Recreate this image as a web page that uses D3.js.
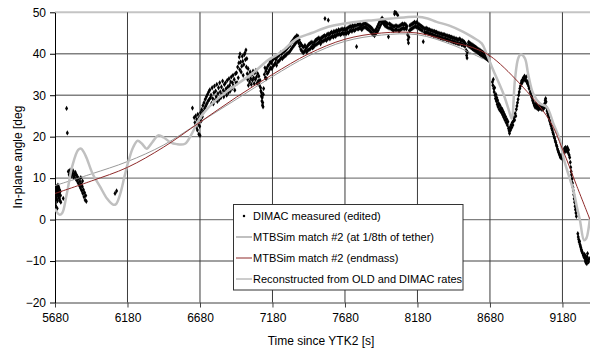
<!DOCTYPE html>
<html><head><meta charset="utf-8">
<script src="https://cdn.jsdelivr.net/npm/d3@7"></script>
<style>body{margin:0;background:#fff}svg{display:block}text{font-family:"Liberation Sans",Arial,sans-serif;fill:#000}</style>
</head><body><svg id="c" width="590" height="351"></svg>
<script>
const xTicks=[5680,6180,6680,7180,7680,8180,8680,9180];
const yTicks=[-20,-10,0,10,20,30,40,50];
const xTitle="Time since YTK2 [s]";
const yTitle="In-plane angle [deg";
const legendLabels=["DIMAC measured (edited)","MTBSim match #2 (at 1/8th of tether)","MTBSim match #2 (endmass)","Reconstructed from OLD and DIMAC rates"];

const measured=[
[5683,4.0],[5684,3.4],[5685,5.5],[5686,3.0],[5688,6.5],[5690,7.2],[5691,5.0],[5693,8.0],[5694,6.0],[5695,2.7],[5696,7.5],[5697,4.5],[5699,6.8],[5700,8.3],[5702,7.0],[5703,5.5],[5705,6.2],[5706,7.8],[5708,6.5],[5710,5.0],[5711,7.2],[5713,6.0],[5714,4.6],[5716,6.8],[5718,5.8],[5720,4.2],[5737,5.1],
[5760,26.8],[5765,20.9],
[5772,11.6],[5778,10.8],[5784,11.9],[5788,11.2],[5792,10.5],[5796,11.5],[5800,10.9],[5804,11.8],[5808,10.2],[5812,11.1],[5816,10.6],[5820,11.4],[5824,9.8],[5828,10.8],[5832,9.4],[5836,10.3],[5840,8.8],[5844,9.9],[5848,8.2],[5852,9.2],[5856,7.6],[5858,10.1],[5860,8.6],[5864,7.0],[5868,8.0],[5870,9.3],[5872,6.3],[5876,7.2],[5880,5.5],[5884,6.5],[5888,4.7],[5892,5.8],[5896,4.4],
[6094,6.3],[6105,6.9],
[6628,26.9],[6640,24.6],[6645,23.4],[6650,25.0],[6655,22.3],[6658,24.2],[6662,21.6],[6665,25.4],[6668,23.0],[6672,20.6],[6675,24.6],[6678,22.5],[6680,20.3],[6684,25.8],[6688,23.8],[6692,26.5],[6696,24.8],[6700,27.5],[6704,26.0],[6708,28.2],[6712,26.8],[6716,29.0],[6720,27.4],[6724,29.6],[6728,28.0],[6732,30.2],[6736,28.6],[6740,30.8],[6744,29.0],[6748,31.3],[6752,29.4],
[6756,30.0],[6760,28.0],[6764,31.8],[6768,29.2],[6772,27.9],[6776,30.6],[6780,32.2],[6784,28.8],[6788,31.0],[6792,29.6],[6796,32.6],[6800,28.5],[6804,30.4],[6808,31.8],[6812,29.0],[6816,33.0],[6820,30.8],[6824,29.4],[6828,32.0],[6832,30.2],[6836,33.4],[6840,31.2],[6844,29.6],[6848,32.6],[6852,30.8],[6856,33.0],[6860,31.6],[6864,30.0],[6868,33.6],[6872,32.0],[6876,30.6],[6880,34.0],[6884,32.4],[6888,31.0],[6892,33.2],[6896,34.4],[6900,31.6],[6904,33.0],[6908,34.8],[6912,32.2],[6916,33.8],[6920,31.2],[6924,35.2],[6928,33.0],
[6932,35.4],[6936,33.0],[6940,36.8],[6944,34.2],[6948,37.8],[6951,39.2],[6954,36.2],[6956,40.0],[6960,38.0],[6964,35.6],[6968,37.0],[6972,39.4],[6975,38.2],[6978,34.8],[6982,37.4],[6986,39.8],[6990,40.2],[6993,38.6],[6997,40.9],[7000,36.8],[7003,38.8],[7006,35.2],[7009,33.8],[7012,36.4],[7014,32.4],
[7018,34.8],[7022,33.2],[7026,35.6],[7030,34.0],[7034,32.6],[7038,35.0],[7042,33.6],[7046,35.8],[7050,34.2],[7054,32.8],[7058,35.4],[7062,33.8],[7066,36.0],[7070,34.4],[7074,32.9],[7078,35.2],[7082,33.4],[7086,34.6],[7090,32.4],[7094,33.6],[7098,31.8],
[7100,31.0],[7103,29.8],[7105,30.6],[7107,28.6],[7109,29.4],[7111,27.6],[7113,28.2],[7115,27.2],[7117,30.2],[7119,31.6],
[7124,35.0],[7128,36.6],[7131,34.2],[7134,35.8],[7137,34.0],[7140,36.4],[7144,35.2],[7148,37.0],[7152,35.6],[7156,37.4],[7160,36.2],[7164,38.0],[7168,36.6],[7172,37.8],[7176,36.4],[7180,38.4],[7184,37.0],[7188,38.8],[7192,37.4],[7196,39.0],[7200,37.8],[7204,38.6],[7208,37.2],[7212,39.2],[7216,38.0],[7220,39.6],[7224,38.2],[7228,39.8],[7232,38.6],[7236,40.2],[7240,39.0],[7244,40.0],[7248,38.8],[7252,40.4],[7256,39.2],[7260,40.6],[7264,39.4],[7268,40.8],[7272,39.6],[7276,41.2],[7280,40.0],[7284,41.4],[7288,40.2],[7292,41.8],[7296,40.4],[7300,42.0],
[7304,40.8],[7308,42.6],[7312,41.2],[7316,43.0],[7320,41.6],[7324,43.4],[7328,42.0],[7332,43.8],[7336,42.4],[7340,44.0],[7344,42.8],[7348,44.4],[7352,43.2],[7356,44.2],[7360,42.6],[7364,43.4],[7368,41.8],[7372,42.6],[7376,41.0],[7380,42.2],[7384,40.6],[7388,41.8],[7392,40.2],[7396,41.6],[7400,40.6],[7404,42.0],[7408,40.8],[7412,41.4],[7416,40.4],[7420,41.8],[7424,40.8],[7428,42.2],[7432,41.0],[7436,42.4],[7440,41.2],[7444,42.6],[7448,41.6],[7452,42.8],[7456,41.4],[7460,42.2],[7464,41.6],[7468,42.8],[7472,42.0],[7476,43.2],[7480,42.2],[7484,43.4],[7488,42.4],[7492,43.6],[7496,42.6],[7500,43.8],[7504,42.8],[7508,43.4],[7512,42.4],[7516,43.8],[7520,43.0],[7524,44.0],[7528,43.0],[7532,44.2],[7536,43.2],[7540,44.4],[7542,48.5],[7544,43.4],[7548,44.2],[7552,43.2],[7556,44.6],[7560,43.6],[7564,44.8],[7565,48.1],[7568,43.8],[7572,44.6],[7576,43.6],[7580,45.0],[7584,44.0],[7588,45.2],[7592,44.2],[7596,45.0],[7600,44.0],[7604,45.4],[7608,44.4],[7612,45.2],[7616,44.2],[7620,45.6],[7624,44.6],[7628,45.4],[7632,44.6],[7636,45.8],[7640,44.8],[7644,45.6],[7648,44.6],[7652,45.8],[7656,44.8],[7660,46.0],[7664,45.0],[7668,45.8],[7672,44.8],[7676,46.0],[7680,45.0],
[7684,45.8],[7688,44.8],[7692,46.0],[7696,45.2],[7700,46.2],[7704,45.0],[7708,46.4],[7712,45.4],[7716,46.6],[7720,45.6],[7724,46.4],[7728,45.4],[7732,46.8],[7736,45.8],[7740,46.6],[7744,45.6],[7748,46.8],[7752,45.8],[7756,46.8],[7760,41.7],[7764,46.0],[7768,47.0],[7772,46.0],[7776,47.0],[7780,46.2],[7784,47.2],[7788,46.2],[7792,46.8],[7796,45.8],[7800,47.0],[7804,46.2],[7808,47.2],[7812,46.4],[7816,47.4],[7820,46.4],[7824,47.2],[7828,46.2],[7832,47.0],[7836,46.0],[7840,46.8],[7844,45.8],[7848,46.6],[7852,45.6],[7856,46.4],[7860,45.2],[7864,46.2],[7868,44.8],[7872,45.8],[7876,44.6],[7880,45.4],[7884,44.4],[7888,45.6],[7892,44.8],[7896,46.0],[7900,45.2],[7904,46.6],[7908,45.6],[7912,47.2],[7916,46.2],[7920,47.8],[7924,46.8],[7928,48.2],[7932,47.4],[7936,48.6],[7940,47.6],[7944,48.2],[7948,47.2],[7952,47.8],[7956,46.8],[7960,47.6],[7964,46.6],[7968,47.4],[7972,46.4],[7976,47.2],[7980,44.1],[7984,46.2],[7988,47.2],[7992,46.2],[7996,47.0],[8000,46.0],[8004,46.8],[8008,45.8],[8012,46.6],[8016,45.6],[8020,46.6],[8022,49.6],[8024,50.1],[8028,45.8],[8032,46.8],[8034,49.8],[8036,45.8],[8040,46.6],[8044,49.3],[8048,45.6],[8052,46.6],[8056,45.6],[8060,46.8],[8064,45.8],[8068,47.0],[8072,46.0],[8076,47.2],[8080,46.2],[8084,47.0],[8088,46.0],[8092,47.2],[8096,46.2],[8100,47.0],[8104,46.0],[8108,46.6],[8112,44.6],[8115,43.4],[8118,42.6],[8121,44.0],[8124,45.6],[8128,46.8],[8132,45.8],[8136,47.0],[8140,46.0],[8144,47.2],[8148,46.2],[8152,47.4],[8156,46.4],[8160,47.6],[8164,46.6],[8168,47.4],[8172,46.4],[8176,47.6],[8180,46.6],
[8184,47.2],[8188,46.2],[8192,47.0],[8196,46.0],[8200,46.8],[8204,45.8],[8208,46.6],[8212,45.6],[8216,46.4],[8220,42.9],[8224,46.2],[8228,45.2],[8232,46.0],[8236,45.0],[8240,46.2],[8244,45.2],[8248,46.0],[8252,45.0],[8256,45.8],[8260,44.8],[8264,45.8],[8268,44.8],[8272,45.6],[8276,44.6],[8280,45.6],[8284,44.6],[8288,45.4],[8292,44.4],[8296,45.4],[8300,44.4],[8304,45.2],[8308,44.2],[8312,45.2],[8316,44.2],[8320,45.0],[8324,44.0],[8328,45.0],[8332,44.0],[8336,44.8],[8340,43.8],[8344,44.8],[8348,43.8],[8352,44.6],[8356,43.6],[8360,44.6],[8364,43.6],[8368,44.6],[8372,43.6],[8376,44.4],[8380,43.4],[8384,44.4],[8388,43.4],[8392,44.2],[8396,43.2],[8400,44.2],[8404,43.2],[8408,44.0],[8412,43.0],[8416,44.0],[8420,43.0],[8424,43.8],[8428,42.8],[8432,43.8],[8436,42.8],[8440,43.6],[8444,42.6],[8448,43.6],[8452,42.6],[8456,43.4],[8460,42.4],[8464,43.4],[8468,42.4],[8472,43.6],[8476,42.6],[8480,43.2],[8484,42.2],[8488,43.2],[8492,42.2],[8496,43.0],[8500,42.0],[8504,42.8],[8508,41.8],[8512,42.4],[8516,40.8],[8519,39.6],[8522,39.0],[8525,40.4],[8528,42.0],[8532,42.8],[8536,41.8],[8540,42.6],[8544,41.6],[8548,42.4],[8552,41.4],[8556,42.2],[8560,41.2],[8564,42.0],[8568,41.0],[8572,41.8],[8576,40.8],[8580,41.6],[8584,40.6],[8588,41.4],[8592,40.4],[8596,41.2],[8600,40.2],[8604,41.0],[8608,40.0],[8612,40.8],[8616,39.8],[8620,40.6],[8624,39.6],[8628,40.4],[8632,39.4],[8636,40.2],[8640,39.2],[8644,40.0],[8648,39.0],[8652,39.8],[8656,38.8],[8660,39.6],[8664,38.6],[8668,39.4],[8672,38.4],
[8697,33.2],[8700,32.4],[8703,33.8],[8706,31.6],[8709,30.8],[8712,31.8],[8715,30.0],[8718,29.2],[8721,30.2],[8724,28.6],[8727,29.4],[8730,27.8],[8733,28.8],[8736,27.2],[8740,28.0],[8744,26.6],[8748,27.6],[8752,26.2],[8756,27.0],[8760,25.8],[8764,26.6],[8768,25.2],[8772,26.0],[8776,24.6],[8780,25.4],[8784,24.0],[8788,24.8],[8792,23.4],[8796,24.2],[8800,22.8],[8804,23.6],[8808,22.0],[8812,21.4],[8815,20.8],[8818,22.2],[8822,21.6],[8826,22.8],[8830,22.2],[8834,23.4],[8838,22.8],[8842,23.8],[8846,24.6],[8850,24.0],[8854,25.6],[8858,25.0],[8862,26.6],[8866,27.4],[8870,28.2],[8874,29.0],[8878,30.0],[8882,30.8],[8886,31.6],[8890,32.2],[8894,32.8],[8898,33.4],[8902,33.0],[8906,33.8],[8910,34.2],[8914,33.6],[8918,34.6],[8922,34.2],[8926,33.6],[8930,34.4],[8934,33.4],[8938,32.8],[8942,33.2],[8946,32.2],[8950,31.6],[8954,32.0],[8958,30.8],[8962,30.4],[8966,29.8],[8970,29.4],[8974,28.8],[8978,28.4],[8982,28.0],[8986,27.6],[8990,27.2],[8994,27.8],[8998,27.0],[9002,27.6],[9006,26.8],[9010,27.4],[9014,26.6],[9018,27.2],[9022,26.8],[9026,27.6],[9030,26.8],[9034,27.4],[9038,26.6],[9042,27.2],[9046,26.6],[9050,27.4],[9054,27.0],[9058,28.0],[9061,28.8],[9064,29.2],[9067,28.4],[9070,27.0],[9074,26.2],[9078,25.6],[9082,25.0],[9086,24.6],[9090,24.0],[9094,23.6],[9098,23.0],[9102,22.6],[9106,22.0],[9110,21.6],[9114,21.0],[9118,20.6],[9122,20.0],[9126,19.6],[9130,19.0],[9134,18.6],[9138,18.0],[9142,17.6],[9146,17.0],[9150,16.6],[9154,16.2],[9158,15.8],[9162,15.4],[9166,15.0],[9170,15.4],[9174,14.8],[9178,15.6],[9182,15.2],[9186,16.0],[9190,16.6],[9194,17.2],[9198,16.4],[9202,17.4],[9206,17.0],[9210,16.6],[9214,17.4],[9218,16.2],[9222,16.8],[9226,15.6],[9230,15.0],
[9234,13.8],[9237,12.6],[9240,11.6],[9243,10.8],[9246,9.8],[9249,8.8],[9252,7.8],[9255,7.0],[9258,6.0],[9261,5.0],[9264,4.2],[9267,3.2],[9270,2.4],[9273,1.6],[9276,0.8],[9286,-3.4],[9289,-4.2],[9292,-4.8],[9295,-5.4],[9298,-5.2],[9301,-6.0],[9304,-6.4],[9307,-6.8],[9310,-7.2],[9313,-7.6],[9316,-7.8],[9320,-8.2],[9324,-8.6],[9328,-9.0],[9332,-8.4],[9335,-9.4],[9338,-10.0],[9340,-8.8],[9342,-10.4],[9345,-9.6],[9348,-10.6],[9350,-9.0],[9353,-8.2],[9356,-9.8],[9360,-10.2],[9364,-9.4]
];

const tetherEighth=[[5680,2.6],[5710,1.2],[5730,1.6],[5760,6],[5800,13],[5840,16.8],[5860,17.1],[5890,15.5],[5940,11],[5990,8],[6040,5],[6080,3.6],[6100,3.7],[6130,6.2],[6160,10.5],[6190,14.5],[6220,17.5],[6250,19],[6280,18.3],[6312,17.1],[6350,18.6],[6392,20.3],[6430,19.8],[6473,18.7],[6520,18.2],[6577,18.3],[6620,20.5],[6680,24.5],[6750,27.5],[6850,30.5],[6950,33],[7050,35.5],[7150,38.5],[7209,39.7],[7260,41],[7324,43],[7370,44],[7450,45],[7530,46.1],[7600,46.8],[7680,47.3],[7780,47.8],[7875,48.1],[8000,48.5],[8100,48.8],[8174,48.9],[8250,48.5],[8312,47.7],[8400,46.8],[8496,45.3],[8560,44],[8623,42.5],[8657,40],[8703,36],[8772,30.4],[8810,26.4],[8830,24.4],[8852,33.6],[8875,38.9],[8893,39.8],[8921,38.9],[8943,35.2],[8978,30.4],[9025,28],[9071,27.2],[9117,23.2],[9163,19.1],[9186,15.1],[9220,11],[9255,7.1],[9280,3],[9301,-0.2],[9329,-5],[9345,-4.5],[9358,-2.6],[9370,0.6]];

const endmass=[[5680,6.3],[5930,9.3],[6180,12.6],[6430,17.5],[6680,23.5],[6930,29.5],[7180,35],[7430,40],[7680,43.5],[7930,45],[8180,45],[8430,42.7],[8560,41.5],[8680,39.5],[8880,33],[9090,24],[9180,17],[9280,8],[9370,0]];

const reconstructed=[[5680,8.2],[5930,11],[6180,14],[6430,18],[6680,23.5],[6930,29],[7180,34.5],[7430,39.5],[7680,43],[7930,44.5],[8180,44.6],[8430,42],[8630,38.8]];

const W=590,H=351;
const svg=d3.select("#c");
const x=d3.scaleLinear().domain([5680,9370]).range([55,590]);
const y=d3.scaleLinear().domain([-20,50]).range([302.5,12.3]);

svg.append("defs").append("clipPath").attr("id","clip").append("rect")
  .attr("x",55).attr("y",10).attr("width",535).attr("height",294);

// grid
const g=svg.append("g");
g.selectAll("line.h").data(yTicks.filter(d=>d>-20&&d<50)).join("line")
  .attr("x1",55).attr("x2",590).attr("y1",d=>y(d)).attr("y2",d=>y(d))
  .attr("stroke","#808080").attr("stroke-width",1.4);
g.append("line").attr("x1",55).attr("x2",590).attr("y1",y(50)).attr("y2",y(50))
  .attr("stroke","#c4c4c4").attr("stroke-width",2);
g.selectAll("line.v").data(xTicks.slice(1)).join("line")
  .attr("x1",d=>x(d)).attr("x2",d=>x(d)).attr("y1",y(50)).attr("y2",y(-20))
  .attr("stroke","#3c3c3c").attr("stroke-width",1);

// axes
const xAxis=d3.axisBottom(x).tickValues(xTicks).tickSize(5).tickSizeOuter(0).tickFormat(d3.format("d"));
const ax=svg.append("g").attr("transform",`translate(0,${y(-20)})`).call(xAxis);
ax.select(".domain").attr("stroke","#404040");
ax.selectAll(".tick line").attr("stroke","#404040");
ax.selectAll("text").attr("font-size",12).attr("font-family","Liberation Sans, Arial, sans-serif").attr("dy","0.95em").attr("fill","#000");
const yAxis=d3.axisLeft(y).tickValues(yTicks).tickSize(5).tickSizeOuter(0);
const ay=svg.append("g").attr("transform",`translate(55,0)`).call(yAxis);
ay.select(".domain").attr("stroke","#000");
ay.selectAll(".tick line").attr("stroke","#000");
ay.selectAll("text").attr("font-size",12).attr("font-family","Liberation Sans, Arial, sans-serif").attr("x",-9).attr("fill","#000");

// data
const plot=svg.append("g").attr("clip-path","url(#clip)");
const sym=d3.symbol(d3.symbolDiamond,8);
plot.selectAll("path.m").data(measured).join("path")
  .attr("d",sym).attr("transform",d=>`translate(${x(d[0])},${y(d[1])})`).attr("fill","#000");

const line=d3.line().x(d=>x(d[0])).y(d=>y(d[1])).curve(d3.curveCatmullRom.alpha(0.5));
plot.append("path").datum(reconstructed).attr("d",line).attr("fill","none").attr("stroke","#9a9a9a").attr("stroke-width",1);
plot.append("path").datum(tetherEighth).attr("d",line).attr("fill","none").attr("stroke","#c0c0c0").attr("stroke-width",2.5);
plot.append("path").datum(endmass).attr("d",line).attr("fill","none").attr("stroke","#8f2a2a").attr("stroke-width",1);

// titles
svg.append("text").attr("x",321).attr("y",345).attr("text-anchor","middle").attr("font-size",12).text(xTitle);
svg.append("text").attr("transform","translate(22,157) rotate(-90)").attr("text-anchor","middle").attr("font-size",12).text(yTitle);

// legend
const lg=svg.append("g");
lg.append("rect").attr("x",233.5).attr("y",204.5).attr("width",229.5).attr("height",85.5).attr("fill","#fff").attr("stroke","#333").attr("stroke-width",1);
const rows=[216,237,258,279];
const styles=[null,{c:"#c0c0c0",w:2},{c:"#8f2a2a",w:1},{c:"#9a9a9a",w:1}];
legendLabels.forEach((t,i)=>{
  if(i===0){
    lg.append("path").attr("d",d3.symbol(d3.symbolCircle,5)()).attr("transform",`translate(244,${rows[i]})`).attr("fill","#000");
  } else {
    lg.append("line").attr("x1",236).attr("x2",252).attr("y1",rows[i]).attr("y2",rows[i]).attr("stroke",styles[i].c).attr("stroke-width",styles[i].w);
  }
  lg.append("text").attr("x",253).attr("y",rows[i]).attr("dy","0.35em").attr("font-size",11).text(t);
});
</script></body></html>
